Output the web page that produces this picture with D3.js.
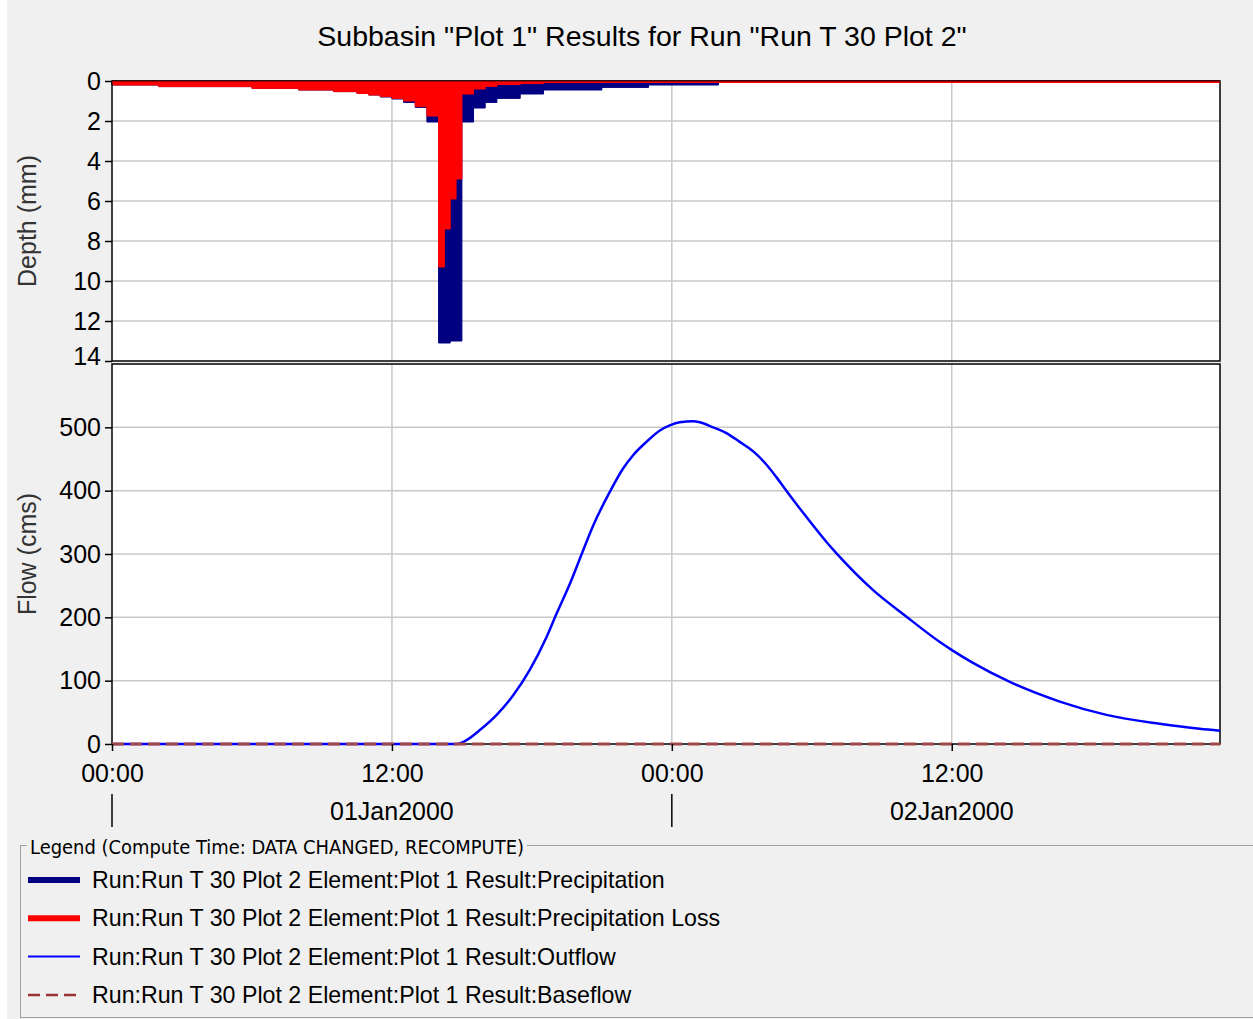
<!DOCTYPE html>
<html>
<head>
<meta charset="utf-8">
<script src="https://cdn.jsdelivr.net/npm/d3@7"></script>
<style>
  body { margin: 0; background: #f0f0f0; }
  text { font-family: "Liberation Sans", Arial, sans-serif; }
</style>
</head>
<body>
<div id="chart"></div>
<script>

// hyetograph blocks (hours from 01Jan2000 00:00), depth per block in mm
const blockStart = [0, 2, 6, 8, 9.5, 10.5, 11, 11.5, 12, 12.5, 13, 13.5, 14, 14.25, 14.5, 14.75, 15, 15.5, 16, 16.5, 17.5, 18.5, 21, 23, 26];
const precip     = [0.2, 0.28, 0.37, 0.45, 0.53, 0.62, 0.7, 0.8, 0.9, 1.07, 1.32, 2.05, 13.1, 13.1, 13.0, 13.0, 2.05, 1.35, 1.07, 0.87, 0.65, 0.45, 0.32, 0.2, 0];
const precipLoss = [0.2, 0.28, 0.37, 0.45, 0.53, 0.62, 0.7, 0.78, 0.87, 1.0, 1.28, 1.75, 9.3, 7.4, 5.9, 4.9, 0.65, 0.4, 0.27, 0.18, 0.13, 0.08, 0.06, 0.03, 0];
const runEnd = 47.5;

// outflow hydrograph (hours, cms)
const flowHours = [0, 14, 14.77, 15.2, 15.77, 16.49, 17.2, 17.91, 18.63, 19.06, 19.63, 20.2, 20.63, 21.34, 21.91, 22.34, 22.91, 23.49, 23.91, 24.34, 24.91, 25.2, 25.77, 26.34, 26.91, 27.49, 28.06, 28.49, 28.91, 29.63, 30.63, 31.06, 32.63, 34.06, 35.49, 36.06, 36.91, 38.49, 40.63, 42.63, 44.91, 46.63, 47.5];
const flowValues = [0, 0, 0, 6, 22, 46, 77, 117, 169, 206, 253, 306, 345, 398, 435, 456, 477, 495, 503, 508, 509.5, 508, 500, 491, 477, 462, 441, 421, 400, 365, 319, 301, 243, 201, 161, 147, 128, 98, 67, 46, 32, 24, 21];
const baseflow = [[0, 0], [47.5, 0]];

const depthTicks = [0, 2, 4, 6, 8, 10, 12, 14];
const flowTicks = [0, 100, 200, 300, 400, 500];
const timeTicks = [0, 12, 24, 36];
const timeLabels = ["00:00", "12:00", "00:00", "12:00"];
const dayStarts = [0, 24];
const dayLabels = [{ h: 12, text: "01Jan2000" }, { h: 36, text: "02Jan2000" }];

const legendItems = [
    { text: "Run:Run T 30 Plot 2 Element:Plot 1 Result:Precipitation", color: "#000080", width: 6, dash: null },
    { text: "Run:Run T 30 Plot 2 Element:Plot 1 Result:Precipitation Loss", color: "#ff0000", width: 6, dash: null },
    { text: "Run:Run T 30 Plot 2 Element:Plot 1 Result:Outflow", color: "#0000ff", width: 2, dash: null },
    { text: "Run:Run T 30 Plot 2 Element:Plot 1 Result:Baseflow", color: "#993333", width: 2.5, dash: "12,6" }
];

const width = 1253, height = 1019;
const left = 112, right = 1220;
const topPanel = { top: 81, bottom: 361 };
const botPanel = { top: 364, bottom: 744 };

const svg = d3.select("#chart").append("svg")
    .attr("width", width)
    .attr("height", height);

svg.append("rect").attr("width", width).attr("height", height).attr("fill", "#f0f0f0");
svg.append("rect").attr("width", 7).attr("height", height).attr("fill", "#ffffff");

// title
svg.append("text")
    .attr("x", 642).attr("y", 46)
    .attr("text-anchor", "middle")
    .style("font-size", "28.5px")
    .attr("fill", "#000")
    .text('Subbasin "Plot 1" Results for Run "Run T 30 Plot 2"');

const x = d3.scaleLinear().domain([0, runEnd]).range([left, right]);
const yDepth = d3.scaleLinear().domain([0, 14]).range([topPanel.top, topPanel.bottom]);
const yFlow = d3.scaleLinear().domain([0, 600]).range([botPanel.bottom, botPanel.top]);

// plot backgrounds
[topPanel, botPanel].forEach(function(p) {
    svg.append("rect")
        .attr("x", left).attr("y", p.top)
        .attr("width", right - left).attr("height", p.bottom - p.top)
        .attr("fill", "#fff");
});

// grids
const grid = svg.append("g").attr("stroke", "#c8c8c8").attr("stroke-width", 1.5);
depthTicks.slice(1, -1).forEach(function(d) {
    grid.append("line").attr("x1", left).attr("x2", right).attr("y1", yDepth(d)).attr("y2", yDepth(d));
});
flowTicks.slice(1).forEach(function(d) {
    grid.append("line").attr("x1", left).attr("x2", right).attr("y1", yFlow(d)).attr("y2", yFlow(d));
});
timeTicks.slice(1).forEach(function(h) {
    grid.append("line").attr("x1", x(h)).attr("x2", x(h)).attr("y1", topPanel.top).attr("y2", topPanel.bottom);
    grid.append("line").attr("x1", x(h)).attr("x2", x(h)).attr("y1", botPanel.top).attr("y2", botPanel.bottom);
});

// hyetograph: precipitation then loss drawn over it
function blocks(values) {
    let pts = blockStart.map(function(h, i) { return [h, values[i]]; });
    pts.push([runEnd, 0]);
    return pts;
}

const stepArea = d3.area()
    .curve(d3.curveStepAfter)
    .x(function(d) { return x(d[0]); })
    .y0(yDepth(0))
    .y1(function(d) { return yDepth(d[1]); });

svg.append("path")
    .datum(blocks(precip))
    .attr("d", stepArea)
    .attr("fill", "#000080")
    .attr("stroke", "#000080")
    .attr("stroke-width", 1);

svg.append("path")
    .datum(blocks(precipLoss))
    .attr("d", stepArea)
    .attr("fill", "#ff0000")
    .attr("stroke", "#ff0000")
    .attr("stroke-width", 1);

// frames
[topPanel, botPanel].forEach(function(p) {
    svg.append("rect")
        .attr("x", left).attr("y", p.top)
        .attr("width", right - left).attr("height", p.bottom - p.top)
        .attr("fill", "none")
        .attr("stroke", "#000")
        .attr("stroke-width", 1.5);
});

svg.append("line")
    .attr("x1", x(0)).attr("x2", x(runEnd))
    .attr("y1", yDepth(0) + 1.2).attr("y2", yDepth(0) + 1.2)
    .attr("stroke", "#ff0000").attr("stroke-width", 1.6);

// flow lines (outflow first, dashed baseflow on top of it)
const flowLine = d3.line()
    .curve(d3.curveMonotoneX)
    .x(function(d) { return x(d[0]); })
    .y(function(d) { return yFlow(d[1]); });

svg.append("path")
    .datum(flowHours.map(function(h, i) { return [h, flowValues[i]]; }))
    .attr("d", flowLine)
    .attr("fill", "none")
    .attr("stroke", "#0000ff")
    .attr("stroke-width", 2.5);

svg.append("path")
    .datum(baseflow)
    .attr("d", flowLine)
    .attr("fill", "none")
    .attr("stroke", "#a04848")
    .attr("stroke-width", 3)
    .attr("stroke-dasharray", "12,6");

// axes
function styleAxis(g) {
    g.select(".domain").remove();
    g.selectAll(".tick line").attr("stroke", "#000").attr("stroke-width", 1.5);
    g.selectAll(".tick text").attr("fill", "#000").style("font-size", "25px");
}

svg.append("g")
    .attr("transform", "translate(" + left + ",0)")
    .call(d3.axisLeft(yDepth).tickValues(depthTicks).tickSize(7).tickPadding(4))
    .call(styleAxis)
    .selectAll(".tick text").attr("dy", function(d) { return d == 14 ? "0.12em" : "0.34em"; });

svg.append("g")
    .attr("transform", "translate(" + left + ",0)")
    .call(d3.axisLeft(yFlow).tickValues(flowTicks).tickSize(7).tickPadding(4))
    .call(styleAxis);

svg.append("g")
    .attr("transform", "translate(0," + botPanel.bottom + ")")
    .call(d3.axisBottom(x).tickValues(timeTicks).tickSize(7).tickPadding(13)
        .tickFormat(function(d, i) { return timeLabels[i]; }))
    .call(styleAxis);

// day row
dayStarts.forEach(function(h) {
    svg.append("line")
        .attr("x1", x(h)).attr("x2", x(h))
        .attr("y1", 794).attr("y2", 827)
        .attr("stroke", "#000").attr("stroke-width", 1.5);
});
dayLabels.forEach(function(d) {
    svg.append("text")
        .attr("x", x(d.h)).attr("y", 820)
        .attr("text-anchor", "middle")
        .style("font-size", "25px")
        .text(d.text);
});

// axis titles
svg.append("text")
    .attr("transform", "translate(36," + ((topPanel.top + topPanel.bottom) / 2) + ") rotate(-90)")
    .attr("text-anchor", "middle")
    .style("font-size", "25px")
    .attr("fill", "#333")
    .text("Depth (mm)");

svg.append("text")
    .attr("transform", "translate(36," + ((botPanel.top + botPanel.bottom) / 2) + ") rotate(-90)")
    .attr("text-anchor", "middle")
    .style("font-size", "25px")
    .attr("fill", "#333")
    .text("Flow (cms)");

// legend
const legend = svg.append("g");
legend.append("rect")
    .attr("x", 20.5).attr("y", 845.5)
    .attr("width", 1250).attr("height", 172)
    .attr("fill", "none")
    .attr("stroke", "#a0a0a0");
legend.append("rect")
    .attr("x", 27).attr("y", 834)
    .attr("width", 500).attr("height", 24)
    .attr("fill", "#f0f0f0");
legend.append("text")
    .attr("x", 30).attr("y", 854)
    .style("font-family", "'DejaVu Sans Condensed', 'DejaVu Sans', sans-serif")
    .style("font-stretch", "condensed")
    .style("font-size", "19px")
    .attr("textLength", 494)
    .attr("lengthAdjust", "spacingAndGlyphs")
    .attr("fill", "#000")
    .text("Legend (Compute Time: DATA CHANGED, RECOMPUTE)");

legendItems.forEach(function(d, i) {
    let cy = 880 + i * 38.3;
    legend.append("line")
        .attr("x1", 28).attr("x2", 80)
        .attr("y1", cy).attr("y2", cy)
        .attr("stroke", d.color)
        .attr("stroke-width", d.width)
        .attr("stroke-dasharray", d.dash);
    legend.append("text")
        .attr("x", 92).attr("y", cy + 8)
        .style("font-size", "23.2px")
        .attr("fill", "#000")
        .text(d.text);
});

</script>
</body>
</html>
